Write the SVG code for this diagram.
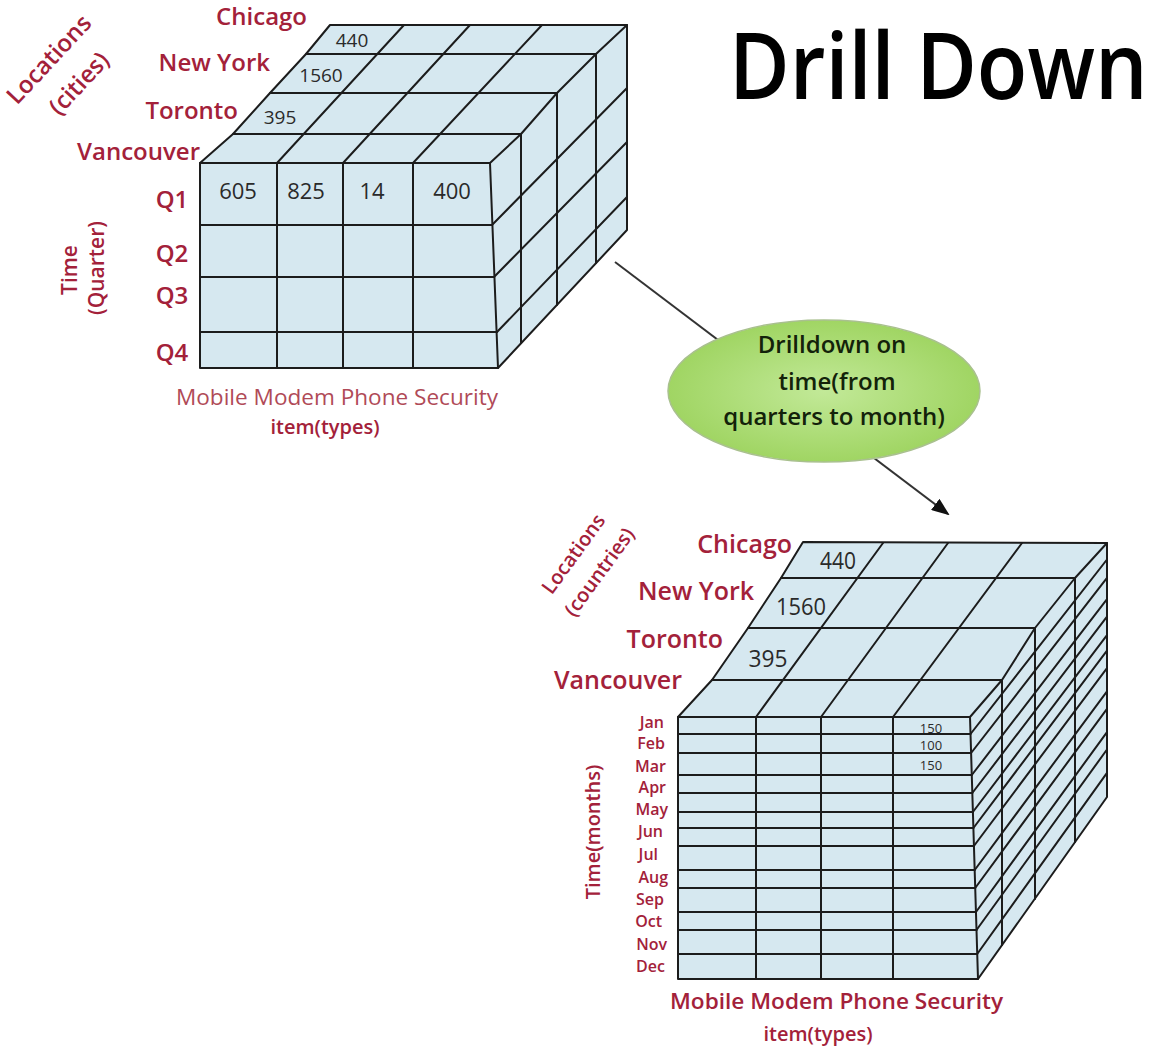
<svg xmlns="http://www.w3.org/2000/svg" width="1162" height="1050" viewBox="0 0 1162 1050">
<style>
.face{fill:#d6e8f0;stroke:none}
.ln{fill:none;stroke:#1c1c1c;stroke-width:2;stroke-linejoin:round;stroke-linecap:round}
.lbl{font-family:"Open Sans","Liberation Sans",sans-serif;fill:#a3213a;font-weight:600}
.lt{font-family:"Open Sans","Liberation Sans",sans-serif;fill:#b04a57;font-weight:400}
.num{font-family:"Open Sans","Liberation Sans",sans-serif;fill:#2a2a2a}
.title{font-family:"Open Sans","Liberation Sans",sans-serif;fill:#000;font-weight:600}
.bub{font-family:"Open Sans","Liberation Sans",sans-serif;fill:#13220a;font-weight:600;font-size:24px}
</style>
<defs>
<radialGradient id="g" cx="50%" cy="50%" r="50%">
<stop offset="0" stop-color="#c2e998"/>
<stop offset="1" stop-color="#a0d563"/>
</radialGradient>
<marker id="ah" markerUnits="userSpaceOnUse" markerWidth="18" markerHeight="14" refX="16" refY="7" orient="auto">
<path d="M0,0 L18,7 L0,14 Z" fill="#111"/>
</marker>
</defs>

<g id="title">
<text class="title" font-size="92" transform="translate(729,99) scale(0.9,1)">Drill Down</text>
</g>

<g id="connectors">
<line x1="615" y1="262" x2="948" y2="514" stroke="#333" stroke-width="2" marker-end="url(#ah)"/>
</g>

<g id="cube-quarters">
<path class="face" d="M200,163 L233,134 L270,93 L306,54 L330,25 L627,25 L627,230 L498,368 L200,368 Z"/>
<path class="ln" d="M200,163 L233,134 L270,93 L306,54 L330,25 L627,25 L627,230 L498,368 L200,368 Z"/>
<path class="ln" d="M200,163 L490,163 L498,368 M490,163 L521,134 L557,93 L596,54 L627,25"/>
<path class="ln" d="M233,134 L521,134 M270,93 L557,93 M306,54 L596,54"/>
<path class="ln" d="M521,134 L521,343 M557,93 L557,305 M596,54 L596,263"/>
<path class="ln" d="M200,225 L492,225 M200,277 L494,277 M200,332 L497,332"/>
<path class="ln" d="M277,163 L277,368 M343,163 L343,368 M413,163 L413,368"/>
<path class="ln" d="M277,163 L404,25 M343,163 L470,25 M413,163 L542,25"/>
<path class="ln" d="M492,225 L627,88 M494,277 L627,142 M497,332 L627,197"/>
<text class="num" x="352" y="47" font-size="19" text-anchor="middle">440</text>
<text class="num" x="321" y="82" font-size="19" text-anchor="middle">1560</text>
<text class="num" x="280" y="124" font-size="19" text-anchor="middle">395</text>
<text class="num" x="238" y="199" font-size="22" text-anchor="middle">605</text>
<text class="num" x="306" y="199" font-size="22" text-anchor="middle">825</text>
<text class="num" x="372" y="199" font-size="22" text-anchor="middle">14</text>
<text class="num" x="452" y="199" font-size="22" text-anchor="middle">400</text>
</g>

<g id="cube-quarters-labels">
<text class="lbl" x="307" y="25" font-size="24" text-anchor="end">Chicago</text>
<text class="lbl" x="270" y="71" font-size="24" text-anchor="end">New York</text>
<text class="lbl" x="238" y="119" font-size="24" text-anchor="end">Toronto</text>
<text class="lbl" x="200" y="160" font-size="24" text-anchor="end">Vancouver</text>
<text class="lbl" font-size="24" text-anchor="middle" transform="translate(55,65) rotate(-47)">Locations</text>
<text class="lbl" font-size="24" text-anchor="middle" transform="translate(85,89) rotate(-47)">(cities)</text>
<text class="lbl" x="172" y="208" font-size="24" text-anchor="middle">Q1</text>
<text class="lbl" x="172" y="262" font-size="24" text-anchor="middle">Q2</text>
<text class="lbl" x="172" y="304" font-size="24" text-anchor="middle">Q3</text>
<text class="lbl" x="172" y="361" font-size="24" text-anchor="middle">Q4</text>
<text class="lbl" font-size="21" text-anchor="middle" transform="translate(77,270) rotate(-90)">Time</text>
<text class="lbl" font-size="21" text-anchor="middle" transform="translate(104,268) rotate(-90)">(Quarter)</text>
<text class="lt" x="176" y="405" font-size="21" textLength="322" lengthAdjust="spacingAndGlyphs">Mobile Modem Phone Security</text>
<text class="lbl" x="325" y="434" font-size="20" text-anchor="middle">item(types)</text>
</g>

<g id="bubble">
<ellipse cx="824" cy="391" rx="156" ry="71" fill="url(#g)" stroke="#a9c08f" stroke-width="1.5"/>
<text class="bub" x="832" y="353" text-anchor="middle">Drilldown on</text>
<text class="bub" x="837" y="390" text-anchor="middle">time(from</text>
<text class="bub" x="834" y="425" text-anchor="middle">quarters to month)</text>
</g>

<g id="cube-months">
<path class="face" d="M678,717 L712,680 L748,628 L781,578 L803,542 L1107,543 L1107,797 L978,979 L678,979 Z"/>
<path class="ln" d="M678,717 L712,680 L748,628 L781,578 L803,542 L1107,543 L1107,797 L978,979 L678,979 Z"/>
<path class="ln" d="M678,717 L970,717 L978,979 M970,717 L1002,680 L1035,628 L1075,578 L1107,543"/>
<path class="ln" d="M712,680 L1002,680 M748,628 L1035,628 M781,578 L1075,578"/>
<path class="ln" d="M1002,680 L1002,945 M1035,628 L1035,899 M1075,578 L1075,842"/>
<path class="ln" d="M756,717 L756,979 M821,717 L821,979 M893,717 L893,979"/>
<path class="ln" d="M756,717 L883,543 M821,717 L948,543 M893,717 L1022,543"/>
<path class="ln" d="M678,734 L970.5,734 M678,753 L971.1,753 M678,775 L971.8,775 M678,793 L972.3,793 M678,812 L972.9,812 M678,828 L973.4,828 M678,846 L973.9,846 M678,870 L974.7,870 M678,888 L975.2,888 M678,912 L976,912 M678,930 L976.5,930 M678,954 L977.2,954"/>
<path class="ln" d="M970.5,734 L1107,559.5 M971.1,753 L1107,577.9 M971.8,775 L1107,599.2 M972.3,793 L1107,616.7 M972.9,812 L1107,635.1 M973.4,828 L1107,650.6 M973.9,846 L1107,668.1 M974.7,870 L1107,691.3 M975.2,888 L1107,708.8 M976,912 L1107,732.1 M976.5,930 L1107,749.5 M977.2,954 L1107,772.8"/>
<text class="num" x="838" y="569" font-size="24" text-anchor="middle" textLength="36" lengthAdjust="spacingAndGlyphs">440</text>
<text class="num" x="801" y="615" font-size="24" text-anchor="middle" textLength="50" lengthAdjust="spacingAndGlyphs">1560</text>
<text class="num" x="768" y="667" font-size="24" text-anchor="middle" textLength="39" lengthAdjust="spacingAndGlyphs">395</text>
<text class="num" x="931" y="733" font-size="13" text-anchor="middle">150</text>
<text class="num" x="931" y="750" font-size="13" text-anchor="middle">100</text>
<text class="num" x="931" y="770" font-size="13" text-anchor="middle">150</text>
</g>

<g id="cube-months-labels">
<text class="lbl" x="792" y="553" font-size="25" text-anchor="end">Chicago</text>
<text class="lbl" x="754" y="600" font-size="25" text-anchor="end">New York</text>
<text class="lbl" x="723" y="648" font-size="25" text-anchor="end">Toronto</text>
<text class="lbl" x="682" y="689" font-size="25" text-anchor="end">Vancouver</text>
<text class="lbl" font-size="20" text-anchor="middle" transform="translate(579,558) rotate(-54)">Locations</text>
<text class="lbl" font-size="20" text-anchor="middle" transform="translate(605,576) rotate(-54)">(countries)</text>
<text class="lbl" font-size="20" text-anchor="middle" transform="translate(600,832) rotate(-90)">Time(months)</text>
<g font-size="16" text-anchor="end">
<text class="lbl" x="664" y="728">Jan</text>
<text class="lbl" x="665" y="749">Feb</text>
<text class="lbl" x="666" y="772">Mar</text>
<text class="lbl" x="666" y="793">Apr</text>
<text class="lbl" x="668" y="815">May</text>
<text class="lbl" x="663" y="837">Jun</text>
<text class="lbl" x="658" y="860">Jul</text>
<text class="lbl" x="668" y="883">Aug</text>
<text class="lbl" x="664" y="905">Sep</text>
<text class="lbl" x="662" y="927">Oct</text>
<text class="lbl" x="667" y="950">Nov</text>
<text class="lbl" x="665" y="972">Dec</text>
</g>
<text class="lbl" x="670" y="1009" font-size="21" textLength="333" lengthAdjust="spacingAndGlyphs">Mobile Modem Phone Security</text>
<text class="lbl" x="818" y="1041" font-size="20" text-anchor="middle">item(types)</text>
</g>
</svg>
